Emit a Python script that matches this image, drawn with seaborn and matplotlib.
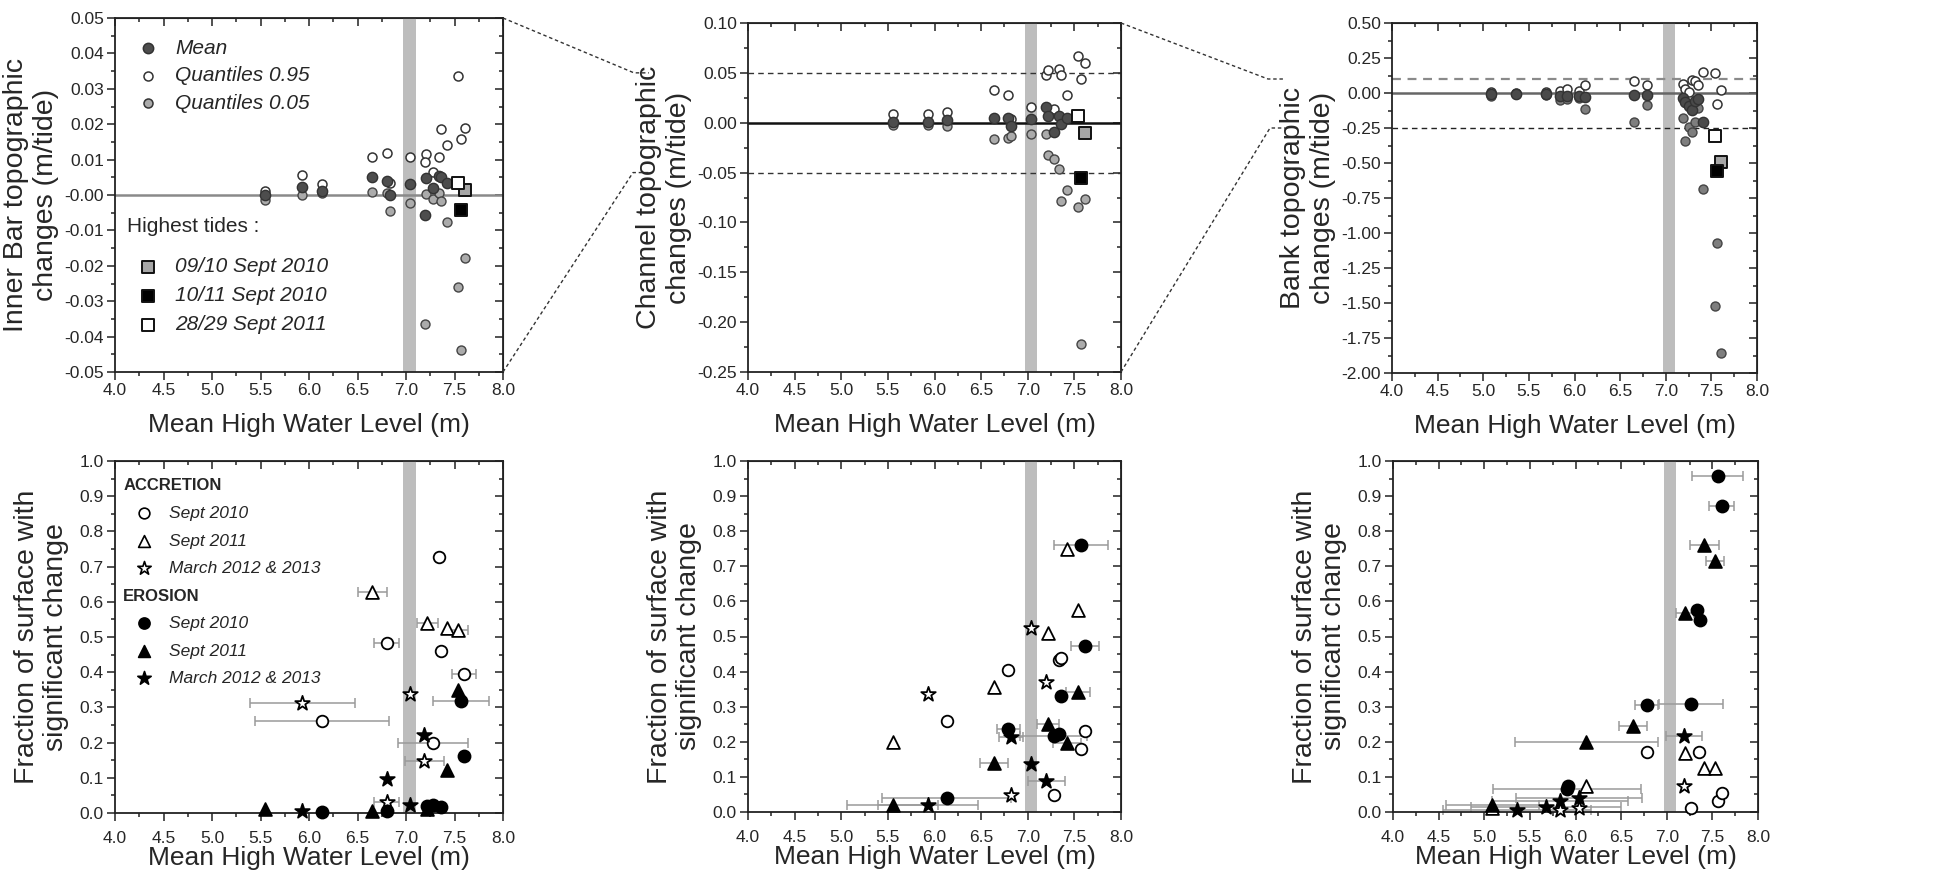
import numpy as np
import matplotlib
matplotlib.use("Agg")
import matplotlib.pyplot as plt
import seaborn as sns
from matplotlib.lines import Line2D
from matplotlib.ticker import MultipleLocator, FormatStrFormatter, NullFormatter

# ------------------------------------------------------------------ data
XLABEL = "Mean High Water Level (m)"
BAND = (6.97, 7.10)

# --- Inner bar topographic changes (m/tide)
IB_X = [5.55, 5.93, 6.13, 6.65, 6.80, 6.83, 7.04, 7.21, 7.20, 7.28, 7.34, 7.36, 7.42]
IB_MEAN = [0.0000, 0.0024, 0.0010, 0.0052, 0.0040, 0.0000, 0.0030, 0.0047, -0.0057, 0.0019, 0.0054, 0.0050, 0.0033]
IB_Q95 = [0.0010, 0.0057, 0.0030, 0.0108, 0.0120, 0.0033, 0.0108, 0.0116, 0.0092, 0.0064, 0.0108, 0.0187, 0.0142]
IB_Q05 = [-0.0014, 0.0000, 0.0005, 0.0009, 0.0007, -0.0045, -0.0024, 0.0002, -0.0363, -0.0012, 0.0007, -0.0017, -0.0077]
IB_TIDE_X = [7.61, 7.57, 7.54]
IB_TIDE_MEAN = [0.0014, -0.0042, 0.0033]
IB_TIDE_Q95 = [0.0190, 0.0158, 0.0335]
IB_TIDE_Q05 = [-0.0179, -0.0439, -0.0261]

# --- Channel topographic changes (m/tide)
CH_X = [5.55, 5.93, 6.13, 6.64, 6.79, 6.82, 7.04, 7.20, 7.22, 7.28, 7.34, 7.36, 7.42]
CH_MEAN = [0.001, 0.001, 0.003, 0.005, 0.005, -0.003, 0.004, 0.016, 0.007, -0.009, 0.007, -0.001, 0.005]
CH_Q95 = [0.009, 0.009, 0.011, 0.033, 0.028, 0.004, 0.016, 0.048, 0.053, 0.014, 0.054, 0.048, 0.028]
CH_Q05 = [-0.002, -0.002, -0.003, -0.016, -0.015, -0.013, -0.011, -0.011, -0.032, -0.036, -0.046, -0.079, -0.067]
CH_TIDE_X = [7.61, 7.57, 7.54]
CH_TIDE_MEAN = [-0.010, -0.055, 0.007]
CH_TIDE_Q95 = [0.060, 0.044, 0.067]
CH_TIDE_Q05 = [-0.077, -0.222, -0.085]

# --- Bank topographic changes (m/tide)
BK_X = [5.09, 5.36, 5.69, 5.84, 5.92, 6.05, 6.12, 6.65, 6.79, 7.19, 7.21, 7.26, 7.29, 7.32, 7.35, 7.41]
BK_MEAN = [-0.010, -0.005, -0.010, -0.020, -0.018, -0.022, -0.028, -0.012, -0.012, -0.035, -0.065, -0.095, -0.120, -0.060, -0.045, -0.205]
BK_Q95 = [0.008, 0.003, 0.004, 0.012, 0.028, 0.012, 0.058, 0.083, 0.060, 0.065, 0.030, 0.005, 0.090, 0.085, 0.060, 0.150]
BK_Q05 = [-0.018, -0.010, -0.015, -0.048, -0.045, -0.035, -0.117, -0.207, -0.085, -0.180, -0.340, -0.245, -0.275, -0.210, -0.110, -0.685]
BK_TIDE_X = [7.61, 7.56, 7.54]
BK_TIDE_MEAN = [-0.49, -0.555, -0.31]
BK_TIDE_Q95 = [0.02, -0.075, 0.14]
BK_TIDE_Q05 = [-1.86, -1.07, -1.52]

TIDE_LABELS = ["09/10 Sept 2010", "10/11 Sept 2010", "28/29 Sept 2011"]
STAT_LABELS = ["Mean", "Quantiles 0.95", "Quantiles 0.05"]
GROUP_LABELS = ["ACCRETION", "EROSION"]
PERIOD_LABELS = ["Sept 2010", "Sept 2011", "March 2012 & 2013"]

# --- Fraction of surface with significant change : Inner bar
IBF_A10_X = [6.13, 6.80, 7.28, 7.34, 7.36, 7.60]
IBF_A10_Y = [0.262, 0.484, 0.200, 0.726, 0.460, 0.394]
IBF_A10_E = [0.69, 0.125, 0.36, 0.0, 0.0, 0.125]
IBF_A11_X = [6.65, 7.22, 7.42, 7.54]
IBF_A11_Y = [0.628, 0.540, 0.525, 0.520]
IBF_A11_E = [0.15, 0.11, 0.0, 0.10]
IBF_AMR_X = [5.93, 6.80, 7.04, 7.19]
IBF_AMR_Y = [0.312, 0.031, 0.337, 0.148]
IBF_AMR_E = [0.54, 0.13, 0.0, 0.20]
IBF_E10_X = [6.13, 6.80, 7.22, 7.28, 7.36, 7.57, 7.60]
IBF_E10_Y = [0.003, 0.005, 0.020, 0.022, 0.017, 0.317, 0.161]
IBF_E10_E = [0.0, 0.0, 0.0, 0.0, 0.0, 0.29, 0.0]
IBF_E11_X = [5.55, 6.65, 7.22, 7.42, 7.54]
IBF_E11_Y = [0.010, 0.007, 0.010, 0.123, 0.350]
IBF_E11_E = [0.0, 0.0, 0.0, 0.0, 0.0]
IBF_EMR_X = [5.93, 6.80, 7.04, 7.19]
IBF_EMR_Y = [0.005, 0.097, 0.024, 0.222]
IBF_EMR_E = [0.0, 0.0, 0.0, 0.0]

# --- Fraction : Channel
CHF_A10_X = [6.13, 6.79, 7.28, 7.34, 7.36, 7.57, 7.61]
CHF_A10_Y = [0.259, 0.404, 0.049, 0.434, 0.440, 0.180, 0.230]
CHF_A10_E = [0.0, 0.0, 0.0, 0.0, 0.0, 0.0, 0.0]
CHF_A11_X = [5.55, 6.64, 7.22, 7.42, 7.54]
CHF_A11_Y = [0.200, 0.356, 0.509, 0.749, 0.575]
CHF_A11_E = [0.0, 0.0, 0.0, 0.0, 0.0]
CHF_AMR_X = [5.93, 6.82, 7.04, 7.20]
CHF_AMR_Y = [0.337, 0.049, 0.523, 0.369]
CHF_AMR_E = [0.0, 0.0, 0.0, 0.0]
CHF_E10_X = [6.13, 6.79, 7.28, 7.34, 7.36, 7.57, 7.61]
CHF_E10_Y = [0.040, 0.236, 0.216, 0.223, 0.331, 0.760, 0.474]
CHF_E10_E = [0.69, 0.125, 0.36, 0.0, 0.0, 0.29, 0.15]
CHF_E11_X = [5.55, 6.64, 7.22, 7.42, 7.54]
CHF_E11_Y = [0.020, 0.141, 0.250, 0.196, 0.342]
CHF_E11_E = [0.49, 0.15, 0.12, 0.15, 0.13]
CHF_EMR_X = [5.93, 6.82, 7.04, 7.20]
CHF_EMR_Y = [0.020, 0.215, 0.138, 0.087]
CHF_EMR_E = [0.54, 0.13, 0.0, 0.20]

# --- Fraction : Bank
BKF_A10_X = [6.78, 7.27, 7.35, 7.56, 7.60]
BKF_A10_Y = [0.171, 0.011, 0.171, 0.030, 0.055]
BKF_A10_E = [0.0, 0.0, 0.0, 0.0, 0.0]
BKF_A11_X = [5.09, 6.12, 7.20, 7.41, 7.53]
BKF_A11_Y = [0.010, 0.074, 0.168, 0.124, 0.125]
BKF_A11_E = [0.0, 0.0, 0.0, 0.0, 0.0]
BKF_AMR_X = [5.83, 6.04, 7.19]
BKF_AMR_Y = [0.005, 0.012, 0.073]
BKF_AMR_E = [0.0, 0.0, 0.0]
BKF_E10_X = [5.91, 5.92, 6.78, 7.27, 7.33, 7.36, 7.56, 7.60]
BKF_E10_Y = [0.066, 0.075, 0.304, 0.309, 0.575, 0.547, 0.958, 0.872]
BKF_E10_E = [0.81, 0.0, 0.125, 0.35, 0.0, 0.0, 0.28, 0.14]
BKF_E11_X = [5.09, 6.12, 6.63, 7.20, 7.41, 7.53]
BKF_E11_Y = [0.021, 0.200, 0.245, 0.566, 0.760, 0.715]
BKF_E11_E = [0.51, 0.78, 0.15, 0.10, 0.16, 0.10]
BKF_EMR_X = [5.36, 5.68, 5.83, 6.04, 7.19]
BKF_EMR_Y = [0.005, 0.014, 0.030, 0.040, 0.216]
BKF_EMR_E = [0.81, 0.82, 0.75, 0.69, 0.20]

# ------------------------------------------------------------------ style
sns.set_style("ticks")
plt.rcParams['font.family'] = ['Liberation Sans', 'DejaVu Sans']
plt.rcParams['axes.unicode_minus'] = False

W, H = 1939, 881
fig = plt.figure(figsize=(W / 100, H / 100), dpi=100)
fig.patch.set_facecolor('white')


def add_ax(l, r, t, b):
    return fig.add_axes([l / W, 1 - b / H, (r - l) / W, (b - t) / H])


ax1 = add_ax(115, 503, 18, 372)
ax2 = add_ax(748, 1121, 23, 372)
ax3 = add_ax(1392, 1757, 23, 373)
ax4 = add_ax(115, 503, 461, 813)
ax5 = add_ax(748, 1121, 461, 812)
ax6 = add_ax(1393, 1758, 461, 812)

TICK_FS = 12.5
XLABEL_FS = 19
YLABEL_FS = 20.5


def style_axes(ax, ylim, ymaj, ymin, yfmt, ylabel, label_x, linesp, xpad, xlabpad):
    ax.set_xlim(4.0, 8.0)
    ax.set_ylim(*ylim)
    ax.xaxis.set_major_locator(MultipleLocator(0.5))
    ax.xaxis.set_minor_locator(MultipleLocator(0.25))
    ax.yaxis.set_major_locator(MultipleLocator(ymaj))
    ax.yaxis.set_minor_locator(MultipleLocator(ymin))
    ax.xaxis.set_major_formatter(FormatStrFormatter('%.1f'))
    ax.yaxis.set_major_formatter(FormatStrFormatter(yfmt))
    ax.tick_params(which='both', direction='out', labelsize=TICK_FS, width=1.1, pad=2, color='#222')
    ax.tick_params(axis='x', which='both', pad=xpad)
    ax.tick_params(which='major', length=6)
    ax.tick_params(which='minor', length=3)
    for s in ax.spines.values():
        s.set_linewidth(1.3)
        s.set_color('#222')
        s.set_visible(True)
    sx = ax.secondary_xaxis('top')
    sx.xaxis.set_major_locator(MultipleLocator(0.5))
    sx.xaxis.set_minor_locator(MultipleLocator(0.25))
    sx.xaxis.set_major_formatter(NullFormatter())
    sx.tick_params(which='both', direction='in', width=1.1, color='#222')
    sx.tick_params(which='major', length=6)
    sx.tick_params(which='minor', length=3)
    sy = ax.secondary_yaxis('right')
    sy.yaxis.set_major_locator(MultipleLocator(ymaj))
    sy.yaxis.set_minor_locator(MultipleLocator(ymin))
    sy.yaxis.set_major_formatter(NullFormatter())
    sy.tick_params(which='both', direction='in', width=1.1, color='#222')
    sy.tick_params(which='major', length=6)
    sy.tick_params(which='minor', length=3)
    ax.set_xlabel(XLABEL, fontsize=XLABEL_FS, labelpad=xlabpad)
    ax.set_ylabel(ylabel, fontsize=YLABEL_FS, linespacing=linesp)
    lab = ax.yaxis.label
    lab.set_rotation_mode('default')
    lab.set_va('center')
    lab.set_ha('center')
    ax.yaxis.set_label_coords(label_x, 0.5)
    ax.axvspan(*BAND, color='#bdbdbd', lw=0, zorder=0.5)


TIDE_COLORS = ['#a6a6a6', '#000000', '#ffffff']


def top_panel(ax, x, mean, q95, q05, tx, tmean, tq95, tq05, mean_c, q05_c, zero_c):
    xa = list(x) + list(tx)
    sns.scatterplot(x=xa, y=list(q95) + list(tq95), ax=ax, marker='o', s=42, color='white',
                    edgecolor='#333333', linewidth=1.1, zorder=3, legend=False, clip_on=False)
    sns.scatterplot(x=xa, y=list(q05) + list(tq05), ax=ax, marker='o', s=42, color=q05_c,
                    edgecolor='#444444', linewidth=1.0, zorder=3, legend=False, clip_on=False)
    sns.scatterplot(x=x, y=mean, ax=ax, marker='o', s=55, color=mean_c,
                    edgecolor='#333333', linewidth=1.0, zorder=4, legend=False, clip_on=False)
    for xi, yi, c in zip(tx, tmean, TIDE_COLORS):
        sns.scatterplot(x=[xi], y=[yi], ax=ax, marker='s', s=80, color=c,
                        edgecolor='#111111', linewidth=1.4, zorder=5, legend=False, clip_on=False)
    ax.axhline(0, color=zero_c, lw=1.8, zorder=1)


# ----- top row
style_axes(ax1, (-0.05, 0.05), 0.01, 0.005, '%.2f', "Inner Bar topographic\nchanges (m/tide)",
           -0.186, 1.2, 2, 11)
top_panel(ax1, IB_X, IB_MEAN, IB_Q95, IB_Q05, IB_TIDE_X, IB_TIDE_MEAN, IB_TIDE_Q95, IB_TIDE_Q05,
          '#4d4d4d', '#ababab', '#8a8a8a')

style_axes(ax2, (-0.25, 0.10), 0.05, 0.025, '%.2f', "Channel topographic\nchanges (m/tide)",
           -0.19, 1.2, 2, 11)
top_panel(ax2, CH_X, CH_MEAN, CH_Q95, CH_Q05, CH_TIDE_X, CH_TIDE_MEAN, CH_TIDE_Q95, CH_TIDE_Q05,
          '#4d4d4d', '#ababab', '#111111')
for yv in (0.05, -0.05):
    ax2.axhline(yv, color='#333333', lw=1.0, ls=(0, (4, 3)), zorder=1)

style_axes(ax3, (-2.0, 0.5), 0.25, 0.125, '%.2f', "Bank topographic\nchanges (m/tide)",
           -0.20, 1.2, 2, 11)
top_panel(ax3, BK_X, BK_MEAN, BK_Q95, BK_Q05, BK_TIDE_X, BK_TIDE_MEAN, BK_TIDE_Q95, BK_TIDE_Q05,
          '#4a4a4a', '#7e7e7e', '#666666')
ax3.axhline(0.10, color='#8a8a8a', lw=1.6, ls=(0, (4, 3)), zorder=1)
ax3.axhline(-0.25, color='#222222', lw=1.0, ls=(0, (4, 3)), zorder=1)

# legend of the top-left panel
LEG_FS = 15
for i, (lab, fc) in enumerate(zip(STAT_LABELS, ['#4d4d4d', '#ffffff', '#ababab'])):
    yy = 0.915 - i * 0.078
    ax1.scatter([0.084], [yy], transform=ax1.transAxes, s=55 if i == 0 else 42, c=fc,
                edgecolors='#333333', linewidths=1.1, zorder=6, clip_on=False)
    ax1.text(0.155, yy, lab, transform=ax1.transAxes, fontsize=LEG_FS, style='italic',
             va='center', ha='left')
ax1.text(0.03, 0.41, "Highest tides :", transform=ax1.transAxes, fontsize=LEG_FS,
         va='center', ha='left')
for i, (lab, fc) in enumerate(zip(TIDE_LABELS, TIDE_COLORS)):
    yy = 0.297 - i * 0.082
    ax1.scatter([0.084], [yy], transform=ax1.transAxes, s=85, c=fc, marker='s',
                edgecolors='#111111', linewidths=1.4, zorder=6, clip_on=False)
    ax1.text(0.155, yy, lab, transform=ax1.transAxes, fontsize=LEG_FS, style='italic',
             va='center', ha='left')

# ----- bottom row
FR_STYLES = [('o', 'white', 70), ('^', 'white', 85), ('*', 'white', 120),
             ('o', 'black', 75), ('^', 'black', 85), ('*', 'black', 120)]


def frac_panel(ax, series):
    for (x, y, e), (mk, fc, s) in zip(series, FR_STYLES):
        x = np.asarray(x); y = np.asarray(y); e = np.asarray(e)
        m = e > 0
        if m.any():
            ax.errorbar(x[m], y[m], xerr=e[m], fmt='none', ecolor='#9a9a9a', elinewidth=1.1,
                        capsize=3.5, capthick=1.1, zorder=2, clip_on=False)
        sns.scatterplot(x=x, y=y, ax=ax, marker=mk, s=s, color=fc, edgecolor='black',
                        linewidth=1.3, zorder=4, legend=False, clip_on=False)


FR_YLABEL = "Fraction of surface with\nsignificant change"
style_axes(ax4, (0.0, 1.0), 0.1, 0.05, '%.1f', FR_YLABEL, -0.17, 1.15, 7, 0)
frac_panel(ax4, [(IBF_A10_X, IBF_A10_Y, IBF_A10_E), (IBF_A11_X, IBF_A11_Y, IBF_A11_E),
                 (IBF_AMR_X, IBF_AMR_Y, IBF_AMR_E), (IBF_E10_X, IBF_E10_Y, IBF_E10_E),
                 (IBF_E11_X, IBF_E11_Y, IBF_E11_E), (IBF_EMR_X, IBF_EMR_Y, IBF_EMR_E)])
style_axes(ax5, (0.0, 1.0), 0.1, 0.05, '%.1f', FR_YLABEL, -0.18, 1.15, 7, 0)
frac_panel(ax5, [(CHF_A10_X, CHF_A10_Y, CHF_A10_E), (CHF_A11_X, CHF_A11_Y, CHF_A11_E),
                 (CHF_AMR_X, CHF_AMR_Y, CHF_AMR_E), (CHF_E10_X, CHF_E10_Y, CHF_E10_E),
                 (CHF_E11_X, CHF_E11_Y, CHF_E11_E), (CHF_EMR_X, CHF_EMR_Y, CHF_EMR_E)])
style_axes(ax6, (0.0, 1.0), 0.1, 0.05, '%.1f', FR_YLABEL, -0.195, 1.15, 7, 0)
frac_panel(ax6, [(BKF_A10_X, BKF_A10_Y, BKF_A10_E), (BKF_A11_X, BKF_A11_Y, BKF_A11_E),
                 (BKF_AMR_X, BKF_AMR_Y, BKF_AMR_E), (BKF_E10_X, BKF_E10_Y, BKF_E10_E),
                 (BKF_E11_X, BKF_E11_Y, BKF_E11_E), (BKF_EMR_X, BKF_EMR_Y, BKF_EMR_E)])

# legend of the bottom-left panel
LEG2_FS = 12.5
rows = [0.931, 0.851, 0.772, 0.695, 0.614, 0.539, 0.460, 0.383]
k = 0
for g, group in enumerate(GROUP_LABELS):
    ax4.text(0.021, rows[k], group, transform=ax4.transAxes, fontsize=12, fontweight='bold',
             va='center', ha='left')
    k += 1
    for p, per in enumerate(PERIOD_LABELS):
        mk, fc, s = FR_STYLES[g * 3 + p]
        ax4.scatter([0.075], [rows[k]], transform=ax4.transAxes, marker=mk, s=s * 0.85, c=fc,
                    edgecolors='black', linewidths=1.2, zorder=6, clip_on=False)
        ax4.text(0.14, rows[k], per, transform=ax4.transAxes, fontsize=LEG2_FS, style='italic',
                 va='center', ha='left')
        k += 1

# ----- keep the y labels clear of the tick labels (close to the reference position)
fig.canvas.draw()
renderer = fig.canvas.get_renderer()
for ax in (ax1, ax2, ax3, ax4, ax5, ax6):
    tl_x0 = min(t.get_window_extent(renderer).x0 for t in ax.get_yticklabels() if t.get_text())
    lab = ax.yaxis.label
    bb = lab.get_window_extent(renderer)
    ax_x0, _ = ax.transAxes.transform((0, 0))
    ax_w = ax.transAxes.transform((1, 0))[0] - ax_x0
    cur_center = (bb.x0 + bb.x1) / 2
    max_center = tl_x0 - 5 - bb.width / 2
    new_center = min(cur_center, max_center)
    if ax in (ax1, ax4):
        new_center = max(new_center, 3 + bb.width / 2)
    ax.yaxis.set_label_coords((new_center - ax_x0) / ax_w, 0.5)

# ----- zoom connectors between the top panels
inv = fig.transFigure.inverted()


def connector(ax_from, corner, ax_to, yval, kink_px, end_px):
    p0 = inv.transform(ax_from.transAxes.transform(corner))
    yf = inv.transform(ax_to.transData.transform((4.0, yval)))[1]
    fig.add_artist(Line2D([p0[0], kink_px / W, end_px / W], [p0[1], yf, yf],
                          transform=fig.transFigure, ls=(0, (2.5, 2)), color='#333333', lw=1.0))


connector(ax1, (1, 1), ax2, 0.05, 634, 649)
connector(ax1, (1, 0), ax2, -0.05, 633, 649)
connector(ax2, (1, 1), ax3, 0.10, 1268, 1285)
connector(ax2, (1, 0), ax3, -0.25, 1270, 1285)

fig.savefig("out.png", dpi=100, facecolor='white')
